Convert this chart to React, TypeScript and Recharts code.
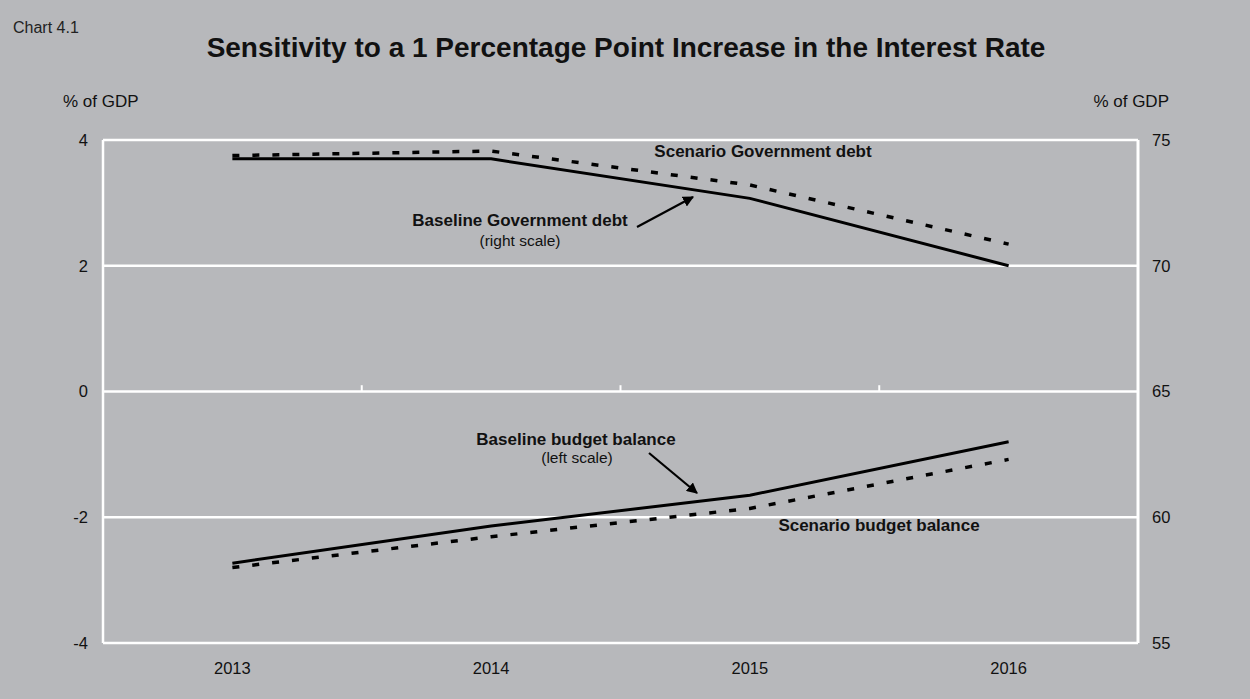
import React from 'react';
import { LineChart, Line, XAxis, YAxis, CartesianGrid, ReferenceLine } from 'recharts';

const years = ['2013', '2014', '2015', '2016'];

// right scale, % of GDP
const baselineDebt = [74.25, 74.25, 72.68, 70.0];
const scenarioDebt = [74.38, 74.56, 73.21, 70.86];

// left scale, % of GDP
const baselineBalance = [-2.73, -2.14, -1.65, -0.8];
const scenarioBalance = [-2.8, -2.31, -1.86, -1.08];

const leftTicks = [-4, -2, 0, 2, 4];
const rightTicks = [55, 60, 65, 70, 75];

const W = 1250;
const H = 699;
const BG = '#b7b8bb';
const FONT = '"Liberation Sans", Arial, Helvetica, sans-serif';

const data = years.map((year, i) => ({
  year,
  baselineDebt: baselineDebt[i],
  scenarioDebt: scenarioDebt[i],
  baselineBalance: baselineBalance[i],
  scenarioBalance: scenarioBalance[i],
}));

const tickStyle = { fill: '#111', fontSize: 16.5, fontFamily: FONT };

function Arrow({ x1, y1, x2, y2 }: { x1: number; y1: number; x2: number; y2: number }) {
  return (
    <line x1={x1} y1={y1} x2={x2} y2={y2} stroke="#000" strokeWidth={2.2} markerEnd="url(#arrowHead)" />
  );
}

export default function App() {
  return (
    <div style={{ position: 'absolute', left: 0, top: 0, width: W, height: H, background: BG, fontFamily: FONT }}>
      <LineChart width={W} height={H} data={data} margin={{ top: 140, right: 52, bottom: 26, left: 43 }}>
        <CartesianGrid yAxisId="left" vertical={false} stroke="#fff" strokeWidth={2.5} />
        <XAxis
          dataKey="year"
          scale="band"
          axisLine={false}
          tickLine={false}
          tickSize={0}
          tickMargin={19}
          height={30}
          tick={tickStyle}
        />
        <YAxis
          yAxisId="left"
          domain={[-4, 4]}
          ticks={leftTicks}
          width={60}
          axisLine={{ stroke: '#fff', strokeWidth: 2.5 }}
          tickLine={false}
          tickSize={0}
          tickMargin={15}
          tick={tickStyle}
        />
        <YAxis
          yAxisId="right"
          orientation="right"
          domain={[55, 75]}
          ticks={rightTicks}
          width={60}
          axisLine={{ stroke: '#fff', strokeWidth: 3 }}
          tickLine={false}
          tickSize={0}
          tickMargin={14}
          tick={tickStyle}
        />
        {/* small category separators sitting on the zero line */}
        {years.slice(1).map((y) => (
          <ReferenceLine
            key={y}
            yAxisId="left"
            position="start"
            segment={[{ x: y, y: 0 }, { x: y, y: 0.1 }]}
            stroke="#fff"
            strokeWidth={2}
          />
        ))}
        <Line
          yAxisId="right"
          dataKey="scenarioDebt"
          type="linear"
          stroke="#000"
          strokeWidth={3.5}
          strokeDasharray="7 13"
          dot={false}
          isAnimationActive={false}
        />
        <Line
          yAxisId="right"
          dataKey="baselineDebt"
          type="linear"
          stroke="#000"
          strokeWidth={3}
          dot={false}
          isAnimationActive={false}
        />
        <Line
          yAxisId="left"
          dataKey="scenarioBalance"
          type="linear"
          stroke="#000"
          strokeWidth={3.5}
          strokeDasharray="7 13"
          dot={false}
          isAnimationActive={false}
        />
        <Line
          yAxisId="left"
          dataKey="baselineBalance"
          type="linear"
          stroke="#000"
          strokeWidth={3}
          dot={false}
          isAnimationActive={false}
        />
      </LineChart>

      <svg
        width={W}
        height={H}
        style={{ position: 'absolute', left: 0, top: 0, pointerEvents: 'none' }}
        fontFamily={FONT}
      >
        <defs>
          <marker id="arrowHead" viewBox="0 0 10 10" refX="9" refY="5" markerWidth="5" markerHeight="5" orient="auto">
            <path d="M0,0 L10,5 L0,10 z" fill="#000" />
          </marker>
        </defs>
        <text x={13} y={33} fontSize={16} fill="#222">Chart 4.1</text>
        <text x={626} y={57} fontSize={28} fontWeight="bold" textAnchor="middle" fill="#111">
          Sensitivity to a 1 Percentage Point Increase in the Interest Rate
        </text>
        <text x={63} y={107} fontSize={17} fill="#111">% of GDP</text>
        <text x={1169} y={107} fontSize={17} fill="#111" textAnchor="end">% of GDP</text>

        <text x={763} y={157} fontSize={17} fontWeight="bold" textAnchor="middle" fill="#111">
          Scenario Government debt
        </text>
        <text x={520} y={226} fontSize={17} fontWeight="bold" textAnchor="middle" fill="#111">
          Baseline Government debt
        </text>
        <text x={520} y={246} fontSize={15.5} textAnchor="middle" fill="#111">(right scale)</text>
        <Arrow x1={637} y1={227} x2={693} y2={197} />

        <text x={576} y={445} fontSize={17} fontWeight="bold" textAnchor="middle" fill="#111">
          Baseline budget balance
        </text>
        <text x={577} y={463} fontSize={15.5} textAnchor="middle" fill="#111">(left scale)</text>
        <Arrow x1={649} y1={453} x2={697} y2={493} />

        <text x={879} y={531} fontSize={17} fontWeight="bold" textAnchor="middle" fill="#111">
          Scenario budget balance
        </text>
      </svg>
    </div>
  );
}
